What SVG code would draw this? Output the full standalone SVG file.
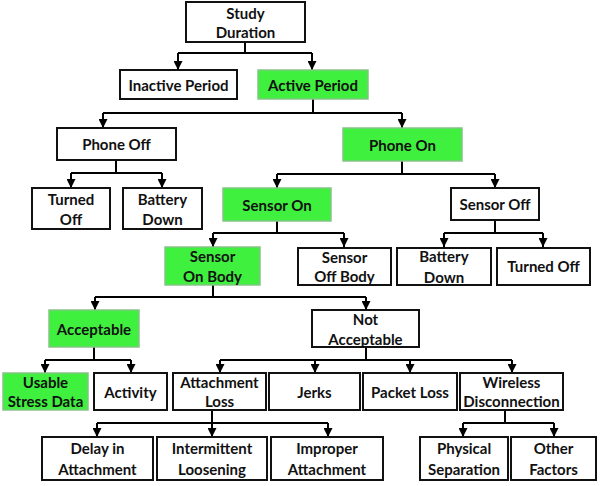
<svg xmlns="http://www.w3.org/2000/svg" width="600" height="486" viewBox="0 0 600 486">
<defs>
<marker id="ah" viewBox="0 0 10 10" refX="10" refY="5" markerWidth="4.5" markerHeight="4.5" orient="auto" markerUnits="strokeWidth"><path d="M0,0 L10,5 L0,10 z" fill="#000"/></marker>
</defs>
<style>
.b rect{fill:#fff;stroke:#111;stroke-width:2}
.g rect{fill:#3ff03f;stroke:#86c486;stroke-width:1.5}
text{font-family:Lato,"Liberation Sans",sans-serif;font-weight:bold;font-size:15px;fill:#111;text-anchor:middle;dominant-baseline:central}
#conn path{fill:none;stroke:#000;stroke-width:2}
#conn .a{marker-end:url(#ah)}
</style>
<rect width="600" height="486" fill="#fff"/>
<g id="conn">
<path d="M245,42V53M178,53H312"/><path class="a" d="M178,53V70"/><path class="a" d="M312,53V70"/>
<path d="M313,99V113M103,113H402"/><path class="a" d="M103,113V128"/><path class="a" d="M402,113V128"/>
<path d="M116,160V173M71,173H162"/><path class="a" d="M71,173V188"/><path class="a" d="M162,173V188"/>
<path d="M402,161V174M277,174H495"/><path class="a" d="M277,174V188"/><path class="a" d="M495,174V188"/>
<path d="M277,221V233M213,233H344"/><path class="a" d="M213,233V247"/><path class="a" d="M344,233V247"/>
<path d="M495,220V233M444,233H543"/><path class="a" d="M444,233V247"/><path class="a" d="M543,233V247"/>
<path d="M213,285V297M95,297H366"/><path class="a" d="M95,297V310"/><path class="a" d="M366,297V310"/>
<path d="M94,347V360M45,360H131"/><path class="a" d="M45,360V373"/><path class="a" d="M131,360V373"/>
<path d="M366,347V360M220,360H512"/><path class="a" d="M220,360V373"/><path class="a" d="M315,360V373"/><path class="a" d="M410,360V373"/><path class="a" d="M512,360V373"/>
<path d="M212,410V423M97,423H328"/><path class="a" d="M97,423V437"/><path class="a" d="M212,423V437"/><path class="a" d="M328,423V437"/>
<path d="M505,410V423M463,423H554"/><path class="a" d="M463,423V437"/><path class="a" d="M554,423V437"/>
</g>
<g id="study" class="b"><rect x="186" y="2" width="119" height="40"/><text x="245.5" y="13">Study</text><text x="245.5" y="32">Duration</text></g>
<g id="inactive" class="b"><rect x="120" y="70" width="117" height="29"/><text x="178.5" y="84.5">Inactive Period</text></g>
<g id="active" class="g"><rect x="258" y="70" width="110" height="29"/><text x="313" y="84.5">Active Period</text></g>
<g id="phoneoff" class="b"><rect x="57" y="128" width="119" height="32"/><text x="116.5" y="144">Phone Off</text></g>
<g id="phoneon" class="g"><rect x="343" y="128" width="119" height="33"/><text x="402.5" y="144.5">Phone On</text></g>
<g id="turnedoff1" class="b"><rect x="32" y="188" width="78" height="41"/><text x="71" y="198.5">Turned</text><text x="71" y="218.5">Off</text></g>
<g id="battery1" class="b"><rect x="123" y="188" width="79" height="41"/><text x="162.5" y="198.5">Battery</text><text x="162.5" y="218.5">Down</text></g>
<g id="sensoron" class="g"><rect x="223" y="188" width="108" height="33"/><text x="277" y="204.5">Sensor On</text></g>
<g id="sensoroff" class="b"><rect x="451" y="188" width="88" height="32"/><text x="495" y="204">Sensor Off</text></g>
<g id="onbody" class="g"><rect x="165" y="247" width="95" height="38"/><text x="212.5" y="256">Sensor</text><text x="212.5" y="276">On Body</text></g>
<g id="offbody" class="b"><rect x="298" y="248" width="93" height="37"/><text x="344.5" y="256.5">Sensor</text><text x="344.5" y="276">Off Body</text></g>
<g id="battery2" class="b"><rect x="397" y="248" width="94" height="37"/><text x="444" y="256">Battery</text><text x="444" y="276.5">Down</text></g>
<g id="turnedoff2" class="b"><rect x="497" y="248" width="93" height="37"/><text x="543.5" y="266">Turned Off</text></g>
<g id="acceptable" class="g"><rect x="49" y="310" width="90" height="37"/><text x="94" y="328.5">Acceptable</text></g>
<g id="notacceptable" class="b"><rect x="312" y="310" width="107" height="37"/><text x="365.5" y="319">Not</text><text x="365.5" y="338.5">Acceptable</text></g>
<g id="usable" class="g"><rect x="3" y="373" width="85" height="37"/><text x="45.5" y="382">Usable</text><text x="45.5" y="401">Stress Data</text></g>
<g id="activity" class="b"><rect x="94" y="373" width="73" height="37"/><text x="130.5" y="391.5">Activity</text></g>
<g id="attachloss" class="b"><rect x="173" y="373" width="93" height="37"/><text x="219.5" y="382">Attachment</text><text x="219.5" y="401">Loss</text></g>
<g id="jerks" class="b"><rect x="269" y="373" width="91" height="37"/><text x="314.5" y="391.5">Jerks</text></g>
<g id="packetloss" class="b"><rect x="363" y="373" width="94" height="37"/><text x="410" y="391.5">Packet Loss</text></g>
<g id="wireless" class="b"><rect x="460" y="373" width="103" height="37"/><text x="511.5" y="382">Wireless</text><text x="511.5" y="401">Disconnection</text></g>
<g id="delay" class="b"><rect x="42" y="437" width="111" height="43"/><text x="97.5" y="448">Delay in</text><text x="97.5" y="469">Attachment</text></g>
<g id="intermittent" class="b"><rect x="157" y="437" width="110" height="43"/><text x="212" y="448">Intermittent</text><text x="212" y="469">Loosening</text></g>
<g id="improper" class="b"><rect x="271" y="437" width="112" height="43"/><text x="327" y="448">Improper</text><text x="327" y="469">Attachment</text></g>
<g id="physical" class="b"><rect x="420" y="437" width="88" height="43"/><text x="464" y="448">Physical</text><text x="464" y="469">Separation</text></g>
<g id="other" class="b"><rect x="511" y="437" width="85" height="43"/><text x="553.5" y="448">Other</text><text x="553.5" y="469">Factors</text></g>
</svg>
